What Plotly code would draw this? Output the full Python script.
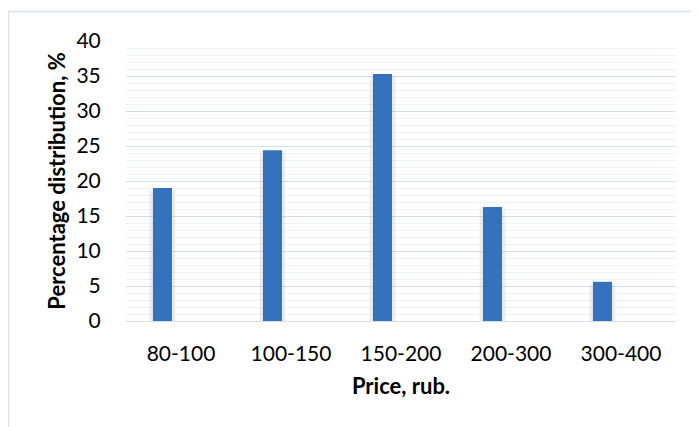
import plotly.graph_objects as go

categories = ["80-100", "100-150", "150-200", "200-300", "300-400"]
values = [19.0, 24.4, 35.3, 16.3, 5.6]
y_title = "Percentage distribution, %"
x_title = "Price, rub."

# page body has an 8px margin, so the figure is drawn at (8, 8)
W, H = 691, 419
L, R, T, B = 118, 23, 33, 106
pw, ph = W - L - R, H - T - B

FONT = "Lato"
bar_w = 0.173
bar_off = -0.255

fig = go.Figure()
# soft shadow behind bars
fig.add_trace(go.Bar(
    x=categories, y=values, base=[-0.35] * len(values),
    width=bar_w + 0.06, offset=bar_off - 0.03,
    marker=dict(color="rgba(0,0,0,0.07)", line=dict(width=0)),
    hoverinfo="skip", showlegend=False,
))
fig.add_trace(go.Bar(
    x=categories, y=values,
    width=bar_w, offset=bar_off,
    marker=dict(color="#3472bd", line=dict(width=0)),
    showlegend=False,
))

fig.update_layout(
    width=W, height=H,
    margin=dict(l=L, r=R, t=T, b=B),
    paper_bgcolor="white", plot_bgcolor="white",
    barmode="overlay",
    font=dict(family=FONT, size=21, color="#000000"),
    xaxis=dict(
        showgrid=False, zeroline=False, showline=False,
        ticks="outside", ticklen=14, tickcolor="rgba(0,0,0,0)",
        tickfont=dict(family=FONT, size=21, color="#000"),
        title=dict(text=x_title, font=dict(family=FONT, size=22, color="#000", weight="bold"), standoff=14),
    ),
    yaxis=dict(
        range=[0, 40], dtick=5, tick0=0,
        showgrid=True, gridcolor="#d3dff0", gridwidth=1.3,
        minor=dict(dtick=1, showgrid=True, gridcolor="#eef3fa", gridwidth=1),
        zeroline=True, zerolinecolor="#d3dff0", zerolinewidth=1.3,
        showline=False,
        ticks="outside", ticklen=20, tickcolor="rgba(0,0,0,0)",
        tickfont=dict(family=FONT, size=21, color="#000"),
        title=dict(text=y_title, font=dict(family=FONT, size=22, color="#000", weight="bold"), standoff=4),
    ),
)

# chart-area border (extends past the bottom and right edges)
fig.add_shape(
    type="rect", xref="paper", yref="paper", layer="below",
    x0=(0.5 - L) / pw, x1=(W + 20 - L) / pw,
    y0=(T + ph - (H + 20)) / ph, y1=(T + ph - 3.5) / ph,
    line=dict(color="#d6e2f2", width=1.5), fillcolor="rgba(0,0,0,0)",
)

fig.write_html("out.html")
